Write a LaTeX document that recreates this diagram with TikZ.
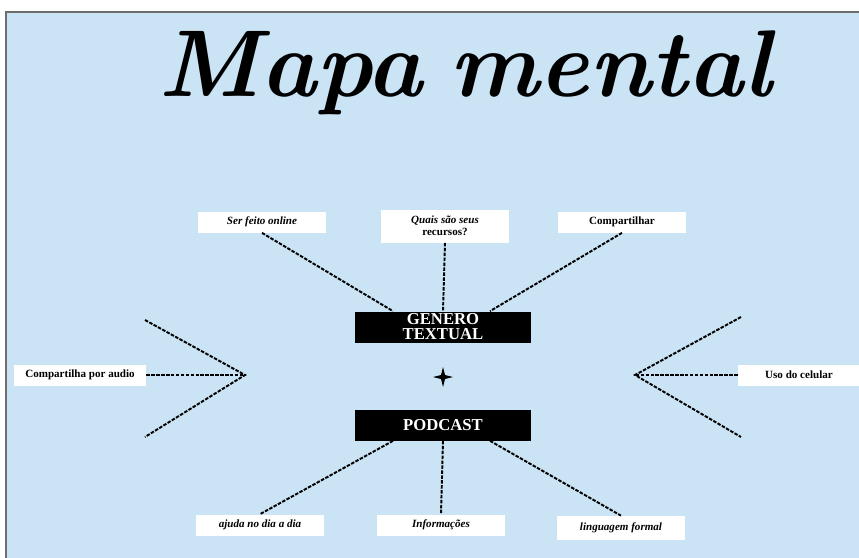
\documentclass[tikz,border=0pt]{standalone}
\usepackage{fontspec}
\setmainfont{Liberation Serif}
\newfontfamily\titlefont{Latin Modern Roman}
\usetikzlibrary{calc}

\definecolor{mapbg}{RGB}{202,228,245}
\definecolor{framegray}{RGB}{110,110,110}

\tikzset{
  topic/.style={fill=black, text=white, font=\bfseries\fontsize{9.5}{8.5}\selectfont,
    minimum width=3.54cm, minimum height=0.62cm, inner sep=0pt, align=center},
  leaf/.style={fill=white, font=\bfseries\fontsize{6.3}{6.6}\selectfont,
    minimum width=2.58cm, minimum height=0.42cm, inner sep=1pt, align=center},
  link/.style={line width=1.1pt, dash pattern=on 2pt off 0.8pt}
}

\begin{document}
\begin{tikzpicture}[x=0.02cm,y=-0.02cm]

\useasboundingbox (0,0) rectangle (859,558);
\fill[white] (0,0) rectangle (859,558);
\fill[mapbg] (6,12) rectangle (859,558);
\draw[framegray, line width=0.8pt] (6,558) -- (6,12) -- (859,12);

% title:
\node[anchor=base] (title) at (465,96)
  {\titlefont\bfseries\itshape\fontsize{54}{54}\selectfont Mapa\hspace{0.28em}mental};

% centre:
\node[topic] (gen) at (443,327) {GENERO\\TEXTUAL};
\coordinate (star) at (443,377);
\fill (star) ++(0,-10) -- ++(2,8) -- ++(8,2) -- ++(-8,2) -- ++(-2,8)
  -- ++(-2,-8) -- ++(-8,-2) -- ++(8,-2) -- cycle;
\node[topic] (pod) at (443,425) {PODCAST};

% upper leaves:
\node[leaf] (ser) at (262,222) {\itshape Ser feito online};
\node[leaf, minimum height=0.66cm] (rec) at (445,226) {\itshape Quais são seus\\recursos?};
\node[leaf] (comp) at (622,222) {Compartilhar};

\draw[link] (ser.south) -- ($(gen.north)+(-50,0)$);
\draw[link] (rec.south) -- (gen.north);
\draw[link] (comp.south) -- ($(gen.north)+(47,0)$);

% side leaves:
\node[leaf, minimum width=2.64cm] (aud) at (80,375) {Compartilha por audio};
\node[leaf, minimum width=2.44cm] (cel) at (799,375) {Uso do celular};

\coordinate (lv) at (245,375);
\coordinate (lt) at (145,320);
\coordinate (lb) at (145,437);
\draw[link] (aud.east) -- (lv);
\draw[link] (lt) -- (lv) -- (lb);

\coordinate (rv) at (635,375);
\coordinate (rt) at (741,317);
\coordinate (rb) at (741,437);
\draw[link] (cel.west) -- (rv);
\draw[link] (rt) -- (rv) -- (rb);

% lower leaves:
\node[leaf] (dia) at (260,525) {\itshape ajuda no dia a dia};
\node[leaf] (inf) at (441,525) {\itshape Informações};
\node[leaf, minimum height=0.48cm] (ling) at (621,528) {\itshape linguagem formal};

\draw[link] ($(pod.south)+(-50,0)$) -- (dia.north);
\draw[link] (pod.south) -- (inf.north);
\draw[link] ($(pod.south)+(47,0)$) -- (ling.north);

\end{tikzpicture}
\end{document}
